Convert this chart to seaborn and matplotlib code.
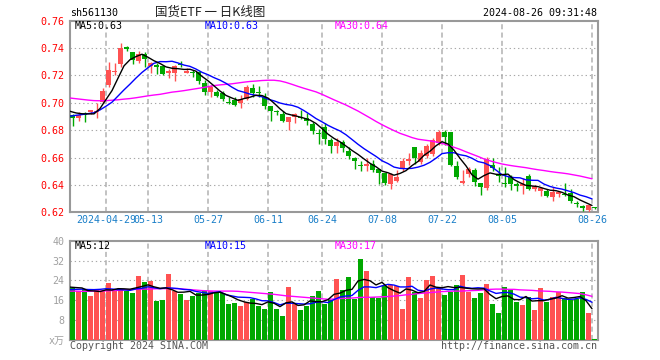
import numpy as np
import pandas as pd
import seaborn as sns
import matplotlib.pyplot as plt

sns.set_style("white")
plt.rcParams['font.family'] = ['DejaVu Sans Mono', 'Noto Sans CJK SC']

# daily candles, 2024-04-19 .. 2024-08-26
open_ = [0.691, 0.689, 0.692, 0.693, 0.693, 0.7005, 0.713, 0.7225, 0.728, 0.7407,
         0.737, 0.7305, 0.7355, 0.727, 0.7276, 0.7267, 0.722, 0.7215, 0.7285, 0.722,
         0.7225, 0.7225, 0.7145, 0.708, 0.708, 0.7075, 0.7005, 0.702, 0.700, 0.703,
         0.711, 0.7075, 0.7045, 0.698, 0.6935, 0.692, 0.686, 0.690, 0.6895, 0.689,
         0.6845, 0.6775, 0.682, 0.673, 0.6685, 0.6715, 0.6645, 0.660, 0.6545, 0.654,
         0.6555, 0.6515, 0.6485, 0.6405, 0.643, 0.652, 0.6578, 0.668, 0.6565, 0.661,
         0.6625, 0.671, 0.6787, 0.679, 0.6535, 0.6417, 0.648, 0.6512, 0.6415, 0.638,
         0.6545, 0.647, 0.6415, 0.646, 0.6405, 0.639, 0.6465, 0.637, 0.6357, 0.6357,
         0.631, 0.6333, 0.6335, 0.634, 0.6268, 0.6245, 0.622, 0.6235]
high = [0.692, 0.693, 0.693, 0.695, 0.6995, 0.711, 0.730, 0.729, 0.7435, 0.7415,
        0.737, 0.7375, 0.737, 0.7296, 0.729, 0.7275, 0.725, 0.7275, 0.7305, 0.7255,
        0.724, 0.7235, 0.7165, 0.713, 0.709, 0.7085, 0.704, 0.704, 0.7055, 0.713,
        0.7135, 0.7125, 0.707, 0.698, 0.6945, 0.694, 0.690, 0.6925, 0.695, 0.6925,
        0.686, 0.6812, 0.685, 0.674, 0.674, 0.6725, 0.6675, 0.6605, 0.6575, 0.6595,
        0.6585, 0.6515, 0.649, 0.6485, 0.651, 0.6595, 0.663, 0.668, 0.6655, 0.670,
        0.674, 0.680, 0.6805, 0.679, 0.6575, 0.6507, 0.653, 0.6525, 0.6415, 0.6605,
        0.660, 0.6532, 0.653, 0.647, 0.642, 0.645, 0.648, 0.640, 0.6385, 0.637,
        0.6386, 0.6355, 0.6415, 0.637, 0.6285, 0.625, 0.6255, 0.624]
low = [0.683, 0.687, 0.686, 0.692, 0.689, 0.700, 0.7115, 0.7205, 0.7265, 0.7375,
       0.7285, 0.729, 0.7265, 0.7215, 0.721, 0.7205, 0.718, 0.716, 0.7265, 0.7215,
       0.719, 0.714, 0.7055, 0.704, 0.704, 0.7015, 0.699, 0.698, 0.6965, 0.702,
       0.704, 0.7045, 0.6955, 0.6865, 0.691, 0.686, 0.6805, 0.6855, 0.6885, 0.6835,
       0.6775, 0.670, 0.670, 0.663, 0.6635, 0.664, 0.659, 0.6515, 0.650, 0.6505,
       0.6495, 0.6405, 0.640, 0.637, 0.6425, 0.6505, 0.6545, 0.6555, 0.655, 0.660,
       0.6615, 0.669, 0.669, 0.6535, 0.644, 0.641, 0.646, 0.639, 0.6325, 0.636,
       0.6505, 0.6422, 0.6386, 0.636, 0.6357, 0.6335, 0.636, 0.6355, 0.632, 0.6315,
       0.628, 0.6315, 0.632, 0.627, 0.624, 0.621, 0.6205, 0.6225]
close = [0.689, 0.691, 0.691, 0.6946, 0.694, 0.7085, 0.724, 0.7235, 0.740, 0.739,
         0.731, 0.7355, 0.732, 0.729, 0.7262, 0.721, 0.723, 0.727, 0.7275, 0.7235,
         0.7215, 0.716, 0.708, 0.7115, 0.705, 0.7025, 0.700, 0.6985, 0.703, 0.7115,
         0.7075, 0.707, 0.6975, 0.694, 0.693, 0.6865, 0.6895, 0.692, 0.689, 0.687,
         0.6795, 0.677, 0.6735, 0.6685, 0.6715, 0.667, 0.6615, 0.6575, 0.654, 0.655,
         0.651, 0.649, 0.6415, 0.648, 0.646, 0.6575, 0.6592, 0.660, 0.663, 0.6685,
         0.6725, 0.679, 0.675, 0.6545, 0.646, 0.6427, 0.6515, 0.6422, 0.6387, 0.659,
         0.6525, 0.6465, 0.641, 0.6405, 0.639, 0.641, 0.6368, 0.639, 0.638, 0.632,
         0.635, 0.635, 0.633, 0.628, 0.626, 0.623, 0.625, 0.623]
# volume, 万手
volume = [20.9, 19.6, 20.7, 17.6, 20.0, 19.7, 22.9, 20.4, 20.4, 19.7,
          18.9, 25.6, 23.3, 23.6, 15.7, 16.0, 26.4, 19.6, 18.4, 16.0,
          17.6, 18.9, 19.6, 19.6, 19.3, 18.9, 14.4, 14.8, 13.6, 15.2,
          16.4, 13.6, 12.4, 19.2, 12.4, 9.6, 21.2, 14.4, 12.0, 13.6,
          17.6, 19.6, 14.4, 16.0, 24.4, 20.0, 25.2, 16.4, 32.8, 27.6,
          17.3, 16.8, 21.6, 22.0, 21.6, 12.4, 25.2, 19.2, 16.8, 24.0,
          25.6, 20.8, 18.0, 19.2, 22.0, 26.0, 19.2, 16.8, 18.8, 22.4,
          14.4, 10.8, 21.2, 20.0, 15.2, 14.0, 17.2, 12.0, 20.8, 15.2,
          17.2, 19.2, 16.8, 16.0, 16.4, 19.2, 10.8, 0.5]
# the nine sessions before the window, needed for MA5 / MA10
prev_close = [0.684, 0.686, 0.688, 0.687, 0.688, 0.697, 0.694, 0.695, 0.694]
prev_volume = [18.5, 20.0, 19.0, 20.5, 18.5, 20.5, 21.5, 23.0, 20.6]
# MA30
ma30_price = [0.7035, 0.7030, 0.7025, 0.7020, 0.7016, 0.7015, 0.7016, 0.7019, 0.7022, 0.7027,
              0.7031, 0.7037, 0.7044, 0.7051, 0.7057, 0.7062, 0.7070, 0.7078, 0.7083, 0.7089,
              0.7096, 0.7103, 0.7110, 0.7118, 0.7126, 0.7131, 0.7135, 0.7139, 0.7145, 0.7151,
              0.7156, 0.7159, 0.7163, 0.7165, 0.7165, 0.7160, 0.7149, 0.7135, 0.7120, 0.7106,
              0.7093, 0.7080, 0.7062, 0.7042, 0.7022, 0.7003, 0.6984, 0.6962, 0.6940, 0.6915,
              0.6890, 0.6864, 0.6840, 0.6818, 0.6797, 0.6777, 0.6762, 0.6746, 0.6734, 0.6728,
              0.6722, 0.6714, 0.6704, 0.6690, 0.6675, 0.6660, 0.6642, 0.6625, 0.6608, 0.6590,
              0.6576, 0.6564, 0.6553, 0.6545, 0.6538, 0.6532, 0.6526, 0.6518, 0.6511, 0.6505,
              0.6498, 0.6492, 0.6487, 0.6481, 0.6473, 0.6465, 0.6455, 0.6445]
ma30_volume = [19.7, 19.7, 19.6, 19.6, 19.7, 19.7, 19.8, 19.9, 20.0, 20.2,
               20.3, 20.4, 20.5, 20.5, 20.6, 20.7, 20.7, 20.7, 20.7, 20.5,
               20.3, 20.1, 19.9, 19.8, 19.7, 19.7, 19.7, 19.7, 19.6, 19.4,
               19.2, 19.0, 18.8, 18.6, 18.4, 18.1, 17.8, 17.6, 17.4, 17.2,
               17.0, 16.8, 16.6, 16.4, 16.5, 16.7, 16.8, 16.9, 17.1, 17.2,
               17.2, 17.3, 17.4, 17.5, 17.7, 17.9, 18.2, 18.4, 18.7, 18.9,
               19.1, 19.3, 19.5, 19.6, 19.7, 19.7, 19.8, 19.9, 20.0, 20.2,
               20.4, 20.5, 20.5, 20.4, 20.4, 20.2, 20.1, 20.0, 19.8, 19.7,
               19.6, 19.4, 19.3, 19.1, 18.9, 18.7, 18.2, 17.6]

tick_dates = ["2024-04-29", "2024-05-13", "2024-05-27", "2024-06-11", "2024-06-24",
              "2024-07-08", "2024-07-22", "2024-08-05", "2024-08-26"]
tick_labels = ["2024-04-29", "05-13", "05-27", "06-11", "06-24", "07-08", "07-22", "08-05", "08-26"]

days = pd.bdate_range("2024-04-19", "2024-08-26")
days = days[~days.isin(pd.to_datetime(["2024-05-01", "2024-05-02", "2024-05-03", "2024-06-10"]))]

df = pd.DataFrame({"date": days, "open": open_, "high": high, "low": low,
                   "close": close, "volume": volume})
df["pos"] = np.arange(len(df))
df["xc"] = df["pos"] + 0.45
df["dir"] = np.where(df["close"] >= df["open"], "up", "down")

cs = pd.Series(prev_close + close)
vs = pd.Series(prev_volume + volume)
n0 = len(prev_close)
df["ma5"] = cs.rolling(5).mean().values[n0:]
df["ma10"] = cs.rolling(10).mean().values[n0:]
df["ma30"] = ma30_price
df["vma5"] = vs.rolling(5).mean().values[n0:]
df["vma10"] = vs.rolling(10).mean().values[n0:]
df["vma30"] = ma30_volume

RED = "#ff5252"
GREEN = "#00a800"
pal = {"up": RED, "down": GREEN}
cols = df["dir"].map(pal)
tick_pos = [int(df.index[df["date"] == pd.Timestamp(d)][0]) for d in tick_dates]

W, H = 660, 360
fig = plt.figure(figsize=(6.6, 3.6), dpi=100)
L, R = 70.3, 597.7
ax1 = fig.add_axes([L / W, 1 - 212.3 / H, (R - L) / W, (212.3 - 20.7) / H])
ax2 = fig.add_axes([L / W, 1 - 340 / H, (R - L) / W, (340 - 240.7) / H])

# candles
ax1.vlines(df["xc"], df["low"], df["high"], colors=cols, lw=1, zorder=3)
body = np.maximum((df["close"] - df["open"]).abs(), 0.0007)
ax1.bar(df["xc"], body, bottom=np.minimum(df["open"], df["close"]), width=0.82,
        color=cols, linewidth=0, zorder=3)
sns.lineplot(x=df["pos"], y=df["ma30"], ax=ax1, color="#ff00ff", lw=1, zorder=4)
sns.lineplot(x=df["pos"], y=df["ma10"], ax=ax1, color="#0000ff", lw=1, zorder=4)
sns.lineplot(x=df["pos"], y=df["ma5"], ax=ax1, color="black", lw=1, zorder=4)

# volume
sns.barplot(data=df, x="xc", y="volume", hue="dir", palette=pal, native_scale=True,
            width=0.82, dodge=False, errorbar=None, legend=False, saturation=1,
            linewidth=0, ax=ax2, zorder=3)
sns.lineplot(x=df["pos"], y=df["vma30"], ax=ax2, color="#ff00ff", lw=1, zorder=4)
sns.lineplot(x=df["pos"], y=df["vma10"], ax=ax2, color="#0000ff", lw=1, zorder=4)
sns.lineplot(x=df["pos"], y=df["vma5"], ax=ax2, color="black", lw=1, zorder=4)

for ax in (ax1, ax2):
    ax.set_xlim(0.05, 87.95)
    ax.set_xlabel("")
    ax.set_ylabel("")
    for s in ax.spines.values():
        s.set_color("#999999")
        s.set_linewidth(1.5)
    for p in tick_pos:
        ax.axvline(p, color="#bdbdbd", lw=1.3, ls=(0, (2.8, 1.8)), zorder=1)
    ax.tick_params(length=0, labelsize=7.2)

ax1.set_ylim(0.62, 0.76)
yt = np.round(np.arange(0.62, 0.7601, 0.02), 2)
ax1.set_yticks(yt)
ax1.set_yticklabels([f"{v:.2f}" for v in yt], color="#ff0000")
for v in yt[1:-1]:
    ax1.axhline(v, color="#a8a8a8", lw=0.8, ls=(0, (1.2, 2.6)), zorder=1)
ax1.set_xticks(tick_pos)
ax1.set_xticklabels(tick_labels, color="#1a7fc8")
ax1.tick_params(axis="x", pad=2)
ax1.tick_params(axis="y", pad=4)

ax2.set_ylim(0, 40)
vt = [0, 8, 16, 24, 32, 40]
ax2.set_yticks(vt)
ax2.set_yticklabels(["x万"] + [str(v) for v in vt[1:]], color="#a0a0a0")
for v in vt[1:-1]:
    ax2.axhline(v, color="#a8a8a8", lw=0.8, ls=(0, (1.2, 2.6)), zorder=1)
ax2.set_xticks([])
ax2.tick_params(axis="y", pad=4)


def put(x, y, s, **kw):
    fig.text(x / W, 1 - y / H, s, va="center", **kw)


put(70, 13, "sh561130", size=7.2, color="black")
put(210, 12, "国货ETF 一 日K线图", size=9, ha="center", color="#222222",
    family=["Noto Sans CJK SC", "DejaVu Sans"])
put(597, 13, "2024-08-26 09:31:48", size=7.2, ha="right", color="black")

put(74.5, 26, "MA5:0.63", size=7.2, color="black")
put(204.5, 26, "MA10:0.63", size=7.2, color="#0000ff")
put(334.5, 26, "MA30:0.64", size=7.2, color="#ff00ff")
put(74.5, 246, "MA5:12", size=7.2, color="black")
put(204.5, 246, "MA10:15", size=7.2, color="#0000ff")
put(334.5, 246, "MA30:17", size=7.2, color="#ff00ff")

put(70, 346, "Copyright 2024 SINA.COM", size=7.2, color="#555555")
put(597, 346, "http://finance.sina.com.cn", size=7.2, ha="right", color="#555555")

fig.savefig("out.png", dpi=100)
